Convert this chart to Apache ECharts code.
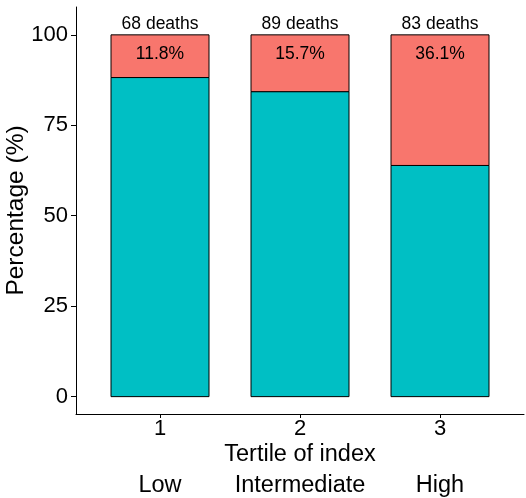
<!DOCTYPE html>
<html>
<head>
<meta charset="utf-8">
<script src="https://cdn.jsdelivr.net/npm/echarts@6/dist/echarts.min.js"></script>
<style>html,body{margin:0;padding:0;background:#fff;}#c{width:526px;height:498px;}</style>
</head>
<body>
<div id="c"></div>
<script>
// Data
const tertiles = [1, 2, 3];
const tertileTickLabels = ['1', '2', '3'];
const tertileLevels = ['Low', 'Intermediate', 'High'];
const survivedPct = [88.2, 84.3, 63.9];
const deathPct = [11.8, 15.7, 36.1];
const deathCounts = [68, 89, 83];
const yTicks = [0, 25, 50, 75, 100];
const deathCountLabelY = 103;
const deathPctLabelY = 94.7;

const FONT = 'Liberation Sans, Arial, sans-serif';
const BAR_WIDTH = 0.7; // in x-axis units
const chart = echarts.init(document.getElementById('c'), null, {renderer: 'canvas'});

function barRenderer(color) {
  return function (params, api) {
    const x = api.value(0), y0 = api.value(1), y1 = api.value(2);
    const pA = api.coord([x - BAR_WIDTH / 2, y1]);
    const pB = api.coord([x + BAR_WIDTH / 2, y0]);
    return {
      type: 'rect',
      shape: {x: pA[0], y: pA[1], width: pB[0] - pA[0], height: pB[1] - pA[1]},
      style: {fill: color, stroke: '#000', lineWidth: 1}
    };
  };
}
function textRenderer(texts) {
  return function (params, api) {
    const p = api.coord([api.value(0), api.value(1)]);
    return {
      type: 'text',
      x: p[0], y: p[1],
      style: {
        text: texts[params.dataIndex], fill: '#000',
        font: '17.5px ' + FONT, align: 'center', verticalAlign: 'middle'
      }
    };
  };
}

const option = {
  animation: false,
  backgroundColor: '#ffffff',
  grid: {left: 76, right: 2, top: 7, bottom: 84, containLabel: false, outerBoundsMode: 'none'},
  xAxis: [{
    type: 'value', min: 0.4, max: 3.6,
    position: 'bottom',
    name: 'Tertile of index', nameLocation: 'middle', nameGap: 28.5,
    nameMoveOverlap: false,
    nameTextStyle: {fontFamily: FONT, fontSize: 23.5, color: '#000'},
    axisLine: {show: true, onZero: false, lineStyle: {color: '#000', width: 1}},
    axisTick: {show: true, length: 4, lineStyle: {color: '#000'}, customValues: tertiles},
    axisLabel: {
      show: true, margin: 4, fontFamily: FONT, fontSize: 22, color: '#000',
      customValues: tertiles,
      formatter: v => tertileTickLabels[tertiles.indexOf(Math.round(v))]
    },
    splitLine: {show: false}
  }, {
    type: 'value', min: 0.4, max: 3.6,
    position: 'bottom',
    axisLine: {show: false},
    axisTick: {show: false},
    axisLabel: {
      show: true, margin: 60, fontFamily: FONT, fontSize: 23.5, color: '#000',
      customValues: tertiles,
      formatter: v => tertileLevels[tertiles.indexOf(Math.round(v))]
    },
    splitLine: {show: false}
  }],
  yAxis: {
    type: 'value', min: -4.8, max: 107.7,
    name: 'Percentage (%)', nameLocation: 'middle', nameGap: 47,
    nameMoveOverlap: false,
    nameTextStyle: {fontFamily: FONT, fontSize: 24.5, color: '#000'},
    axisLine: {show: true, onZero: false, lineStyle: {color: '#000', width: 1}},
    axisTick: {show: true, length: 5, lineStyle: {color: '#000'}, customValues: yTicks},
    axisLabel: {
      show: true, margin: 8, fontFamily: FONT, fontSize: 22, color: '#000',
      customValues: yTicks
    },
    splitLine: {show: false}
  },
  series: [
    {
      type: 'custom', name: 'Survived', silent: true,
      renderItem: barRenderer('#00BFC4'),
      encode: {x: 0, y: [1, 2]},
      data: tertiles.map((t, i) => [t, 0, survivedPct[i]])
    },
    {
      type: 'custom', name: 'Died', silent: true,
      renderItem: barRenderer('#F8766D'),
      encode: {x: 0, y: [1, 2]},
      data: tertiles.map((t, i) => [t, survivedPct[i], survivedPct[i] + deathPct[i]])
    },
    {
      type: 'custom', silent: true,
      renderItem: textRenderer(deathCounts.map(d => d + ' deaths')),
      encode: {x: 0, y: 1},
      data: tertiles.map(t => [t, deathCountLabelY])
    },
    {
      type: 'custom', silent: true,
      renderItem: textRenderer(deathPct.map(p => p.toFixed(1) + '%')),
      encode: {x: 0, y: 1},
      data: tertiles.map(t => [t, deathPctLabelY])
    }
  ]
};
chart.setOption(option);
</script>
</body>
</html>
